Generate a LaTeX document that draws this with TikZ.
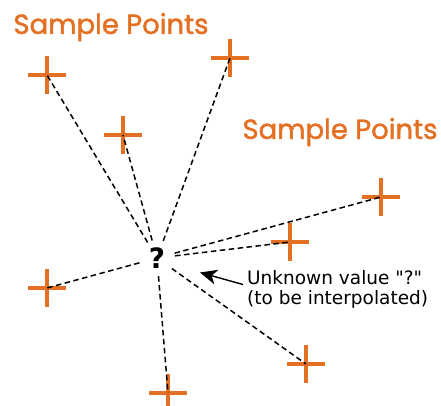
\documentclass[tikz,border=0pt]{standalone}
\usepackage{fontspec}
\setmainfont{DejaVu Sans}
\newfontfamily\popfont[FakeBold=1.6]{Poppins}
\usetikzlibrary{shapes.misc,arrows.meta}
\definecolor{samporange}{RGB}{228,112,36}
\tikzset{
  sample/.style={draw=samporange, cross out, rotate=45, minimum size=22.6pt, inner sep=0pt, line width=4pt},
  link/.style={draw=black, dash pattern=on 5.5pt off 3.5pt, line width=1.5pt},
  title/.style={text=samporange, font=\popfont\fontsize{27.5}{30}\selectfont, inner sep=0pt},
  note/.style={font=\fontsize{18.5}{20}\selectfont, align=left, inner sep=0pt}
}
\begin{document}
\begin{tikzpicture}[x=1pt,y=-1pt]
\useasboundingbox (0,0) rectangle (441,406);
\node[title] (t1) at (111,27) {Sample Points};
\node[title] (t2) at (340,132) {Sample Points};
\node[sample] (c1) at (47,75) {};
\node[sample] (c2) at (230,58) {};
\node[sample] (c3) at (123,135) {};
\node[sample] (c4) at (381,197) {};
\node[sample] (c5) at (290,242) {};
\node[sample] (c6) at (47,288) {};
\node[sample] (c7) at (306,364) {};
\node[sample] (c8) at (168,393) {};
\node[circle, minimum size=36pt, inner sep=0pt, font=\bfseries\fontsize{28}{30}\selectfont] (q) at (157,258) {?};
\foreach \c in {c1,c2,c3,c4,c5,c6,c7,c8} \draw[link] (q) -- (\c.center);
\node[note, anchor=west] (n) at (247,289) {Unknown value \textquotedbl?\textquotedbl\\(to be interpolated)};
\coordinate (tip) at (200,272.5);
\draw[line width=1.4pt, -{Stealth[length=17pt,width=15pt,inset=5pt]}] (243,284.5) -- (tip);
\end{tikzpicture}
\end{document}
